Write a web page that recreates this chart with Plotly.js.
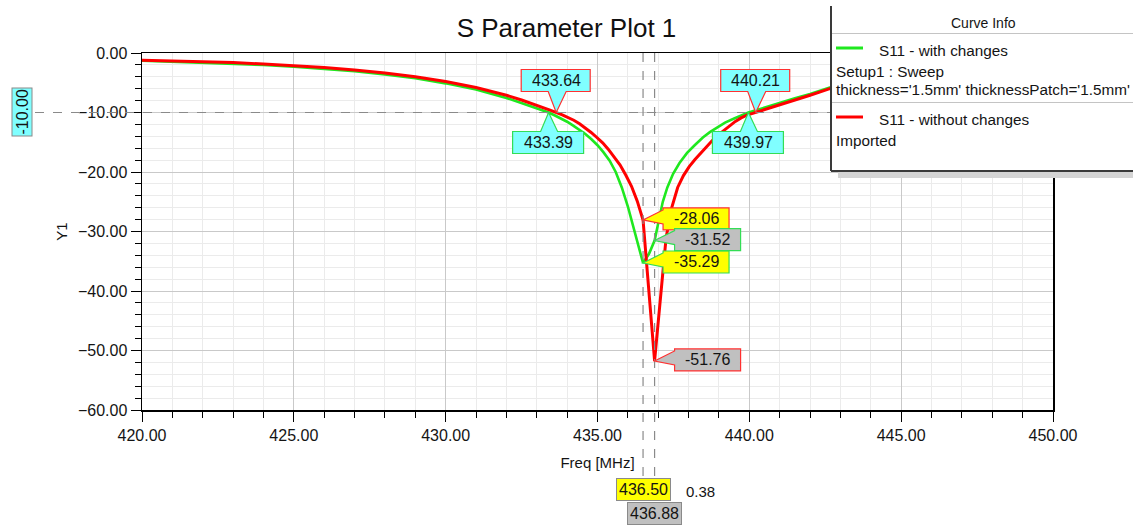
<!DOCTYPE html>
<html>
<head>
<meta charset="utf-8">
<script src="https://cdn.plot.ly/plotly-3.0.1.min.js"></script>
<style>
html,body{margin:0;padding:0;background:#fff;}
#chart{width:1133px;height:529px;}
</style>
</head>
<body>
<div id="chart"></div>
<script>
// ---------------- DATA ----------------
const freqWith = [420, 421, 422, 423, 424, 425, 426, 427, 428, 429, 430, 431, 432, 432.5, 433, 433.39, 433.6, 433.8, 434.0, 434.2, 434.4, 434.6, 434.8, 435.0, 435.2, 435.4, 435.6, 435.8, 436.0, 436.15, 436.3, 436.5, 436.7, 436.88, 437.0, 437.15, 437.3, 437.49, 437.7, 437.95, 438.2, 438.47, 438.7, 438.93, 439.2, 439.5, 439.75, 439.97, 440.3, 440.6, 441, 441.5, 442, 442.65, 443, 444, 445, 446, 447, 448, 449, 450];
const s11With  = [-1.3, -1.45, -1.6, -1.8, -2.0, -2.3, -2.65, -3.05, -3.6, -4.25, -5.1, -6.15, -7.55, -8.4, -9.3, -10.0, -10.5, -11.0, -11.55, -12.2, -12.85, -13.6, -14.5, -15.5, -16.7, -18.1, -20.0, -22.6, -25.8, -28.7, -31.8, -35.29, -33.7, -31.52, -28.6, -25.0, -22.6, -20.3, -18.5, -16.8, -15.5, -14.2, -13.3, -12.5, -11.7, -11.0, -10.4, -10.0, -9.5, -9.0, -8.4, -7.6, -6.9, -5.8, -5.4, -4.6, -4.0, -3.5, -3.1, -2.75, -2.45, -2.2];

const freqWithout = [420, 421, 422, 423, 424, 425, 426, 427, 428, 429, 430, 431, 432, 432.5, 433, 433.46, 433.84, 434.03, 434.22, 434.41, 434.6, 434.79, 434.98, 435.17, 435.36, 435.55, 435.74, 435.93, 436.12, 436.31, 436.5, 436.88, 437.26, 437.45, 437.64, 437.83, 438.02, 438.21, 438.4, 438.6, 438.78, 438.97, 439.16, 439.35, 439.54, 439.73, 439.92, 440.11, 440.3, 440.6, 441, 441.5, 442, 442.65, 443, 444, 445, 446, 447, 448, 449, 450];
const s11Without = [-1.2, -1.3, -1.45, -1.6, -1.85, -2.1, -2.45, -2.85, -3.35, -4.0, -4.8, -5.8, -7.1, -7.9, -8.75, -9.65, -10.4, -10.8, -11.3, -11.9, -12.6, -13.35, -14.2, -15.1, -16.2, -17.4, -18.8, -20.5, -22.4, -24.9, -28.06, -51.76, -31.0, -25.9, -22.6, -20.6, -19.1, -17.9, -16.8, -15.7, -14.7, -13.8, -13.0, -12.2, -11.5, -10.9, -10.45, -10.15, -9.85, -9.3, -8.7, -7.9, -7.1, -6.0, -5.6, -4.7, -4.0, -3.5, -3.1, -2.8, -2.5, -2.3];

const seriesNames = ['S11 - with changes', 'S11 - without changes'];
const seriesNotes = [['Setup1 : Sweep', "thickness='1.5mm' thicknessPatch='1.5mm'"], ['Imported']];

const levelDb = -10;
const crossWith = [433.39, 439.97];
const crossWithout = [433.64, 440.21];
const markerFreqs = [436.50, 436.88];
const markerWith = [-35.29, -31.52];
const markerWithout = [-28.06, -51.76];

const xTickVals = [420, 425, 430, 435, 440, 445, 450];
const yTickVals = [0, -10, -20, -30, -40, -50, -60];

// ---------------- STYLE / GEOMETRY ----------------
const W = 1133, H = 529, L = 142, R = 1053, T = 53, B = 410;
const px2x = px => (px - L) / (R - L);
const py2y = py => (B - py) / (B - T);
const FONT = 'Liberation Sans, Arial, sans-serif';
const GREEN = '#1fe81f', RED = '#ff0000';
const GREEN_B = '#33dd55', RED_B = '#ff3030';
const CYAN = '#80ffff', YELLOW = '#ffff00', GRAY = '#c0c0c0';
const TXT = '#141414';

const traces = [
  {x: freqWith, y: s11With, name: seriesNames[0], mode: 'lines', line: {color: GREEN, width: 2.6}},
  {x: freqWithout, y: s11Without, name: seriesNames[1], mode: 'lines', line: {color: RED, width: 3}}
];

const shapes = [];
const annotations = [];

// dashed -10 level line
shapes.push({type: 'line', xref: 'paper', yref: 'y', x0: px2x(35), x1: 1, y0: levelDb, y1: levelDb,
  line: {color: '#8a8a8a', width: 1.2, dash: 'dash'}, layer: 'above'});
// vertical marker lines
const vEnds = [477, 501];
markerFreqs.forEach((f, i) => {
  shapes.push({type: 'line', xref: 'x', yref: 'paper', x0: f, x1: f, y0: 1, y1: py2y(vEnds[i]),
    line: {color: '#8a8a8a', width: 1.2, dash: 'dash'}, layer: 'above'});
});

function pathFrom(pts) {
  return 'M' + pts.map(p => p[0] + ',' + (-p[1])).join(' L') + ' Z';
}
function calloutDown(l, r, t, b, b1, b2) { // box above anchor, pointer down
  return pathFrom([[l, t], [r, t], [r, b], [b2, b], [0, 0], [b1, b], [l, b]]);
}
function calloutUp(l, r, t, b, b1, b2) { // box below anchor, pointer up
  return pathFrom([[l, t], [b1, t], [0, 0], [b2, t], [r, t], [r, b], [l, b]]);
}
function calloutLeft(l, r, t, b, b1, b2) { // box right of anchor, pointer left
  return pathFrom([[l, t], [r, t], [r, b], [l, b], [l, b2], [0, 0], [l, b1]]);
}
function addCallout(f, v, path, fill, border, text, xs, ys) {
  shapes.push({type: 'path', xref: 'x', yref: 'y', xsizemode: 'pixel', ysizemode: 'pixel',
    xanchor: f, yanchor: v, path: path, fillcolor: fill, line: {color: border, width: 1.2}, layer: 'above'});
  annotations.push({x: f, y: v, xref: 'x', yref: 'y', xshift: xs, yshift: ys, text: text, showarrow: false,
    font: {family: FONT, size: 16, color: TXT}, xanchor: 'center', yanchor: 'middle'});
}
// -10 crossings
crossWithout.forEach(f => addCallout(f, levelDb, calloutDown(-35, 34, -43, -21, -8, 10), CYAN, RED_B, f.toFixed(2), 0, 32));
crossWith.forEach(f => addCallout(f, levelDb, calloutUp(-36, 35, 19, 41, -8, 9), CYAN, GREEN_B, f.toFixed(2), 0, -30));
// marker values
const mFill = [YELLOW, GRAY];
markerFreqs.forEach((f, i) => {
  addCallout(f, markerWithout[i], calloutLeft(20, 86, -12, 10, -10, 4), mFill[i], RED_B, markerWithout[i].toFixed(2), 53, 1);
  addCallout(f, markerWith[i], calloutLeft(20, 86, -12, 10, -10, 4), mFill[i], GREEN_B, markerWith[i].toFixed(2), 53, 1);
});

// bottom marker labels
const bottomY = [489, 513];
markerFreqs.forEach((f, i) => {
  annotations.push({x: f, xref: 'x', y: py2y(bottomY[i]), yref: 'paper', text: f.toFixed(2), showarrow: false,
    bgcolor: mFill[i], bordercolor: '#8a8a8a', borderwidth: 1, borderpad: 2,
    font: {family: FONT, size: 16, color: TXT}, xanchor: 'center', yanchor: 'middle'});
});
annotations.push({x: markerFreqs[1], xref: 'x', xshift: 46, y: py2y(491), yref: 'paper',
  text: (markerFreqs[1] - markerFreqs[0]).toFixed(2), showarrow: false,
  font: {family: FONT, size: 15, color: TXT}, xanchor: 'center', yanchor: 'middle'});
// left level label
annotations.push({x: px2x(22), xref: 'paper', y: levelDb, yref: 'y', text: levelDb.toFixed(2), textangle: -90,
  showarrow: false, bgcolor: CYAN, bordercolor: '#8a8a8a', borderwidth: 1, borderpad: 1,
  font: {family: FONT, size: 16, color: TXT}, xanchor: 'center', yanchor: 'middle'});

// ---------------- Curve Info box ----------------
const bx0 = px2x(831), bx1 = px2x(1145);
shapes.push({type: 'rect', xref: 'paper', yref: 'paper', x0: px2x(838), x1: bx1, y0: py2y(178), y1: py2y(170),
  fillcolor: '#d4d4d4', line: {width: 0}, layer: 'above'});
shapes.push({type: 'rect', xref: 'paper', yref: 'paper', x0: bx0, x1: bx1, y0: py2y(171), y1: py2y(6),
  fillcolor: '#ffffff', line: {width: 0}, layer: 'above'});
shapes.push({type: 'line', xref: 'paper', yref: 'paper', x0: bx0, x1: bx0, y0: py2y(171), y1: py2y(6),
  line: {color: '#3a3a3a', width: 2}, layer: 'above'});
shapes.push({type: 'line', xref: 'paper', yref: 'paper', x0: bx0, x1: bx1, y0: py2y(171), y1: py2y(171),
  line: {color: '#3a3a3a', width: 2}, layer: 'above'});
[33.5, 102.5].forEach(py => shapes.push({type: 'line', xref: 'paper', yref: 'paper', x0: px2x(832), x1: bx1,
  y0: py2y(py), y1: py2y(py), line: {color: '#c4c4c4', width: 1}, layer: 'above'}));
const legLineY = [48, 117];
const legNameY = [50, 119];
const legNoteY = [[71.5, 89], [140]];
const legColors = [GREEN, RED];
seriesNames.forEach((name, i) => {
  shapes.push({type: 'line', xref: 'paper', yref: 'paper', x0: px2x(836), x1: px2x(863),
    y0: py2y(legLineY[i]), y1: py2y(legLineY[i]), line: {color: legColors[i], width: 3}, layer: 'above'});
  annotations.push({x: px2x(877), xref: 'paper', y: py2y(legNameY[i]), yref: 'paper', text: name, showarrow: false,
    xanchor: 'left', yanchor: 'middle', font: {family: FONT, size: 15.3, color: TXT}});
  seriesNotes[i].forEach((note, j) => {
    annotations.push({x: px2x(834), xref: 'paper', y: py2y(legNoteY[i][j]), yref: 'paper', text: note, showarrow: false,
      xanchor: 'left', yanchor: 'middle', font: {family: FONT, size: 15.3, color: TXT}});
  });
});
annotations.push({x: px2x(983), xref: 'paper', y: py2y(23), yref: 'paper', text: 'Curve Info', showarrow: false,
  xanchor: 'center', yanchor: 'middle', font: {family: FONT, size: 14, color: TXT}});

// ---------------- LAYOUT ----------------
const axisCommon = {
  showgrid: true, gridcolor: '#c9c9c9', gridwidth: 1, zeroline: false,
  ticks: 'outside', ticklen: 10, tickwidth: 1, tickcolor: '#000',
  showline: true, linecolor: '#000', linewidth: 1.5, mirror: true,
  tickformat: '.2f', tickfont: {family: FONT, size: 16, color: TXT}
};
const layout = {
  width: W, height: H,
  margin: {l: L, r: W - R, t: T, b: H - B, pad: 0},
  paper_bgcolor: '#ffffff', plot_bgcolor: '#ffffff',
  showlegend: false,
  font: {family: FONT, color: TXT},
  title: {text: 'S Parameter Plot 1', x: 0.5, xref: 'container', y: 1 - 28 / H, yref: 'container',
    xanchor: 'center', yanchor: 'middle', font: {family: FONT, size: 26, color: '#111'}},
  xaxis: Object.assign({}, axisCommon, {
    range: [420, 450], tickmode: 'array', tickvals: xTickVals,
    minor: {dtick: 1, tick0: 420, showgrid: true, gridcolor: '#ebebeb', gridwidth: 1, ticks: 'outside', ticklen: 6, tickcolor: '#000'},
    title: {text: 'Freq [MHz]', font: {family: FONT, size: 15, color: TXT}, standoff: 15}
  }),
  yaxis: Object.assign({}, axisCommon, {
    range: [-60, 0], tickmode: 'array', tickvals: yTickVals,
    minor: {dtick: 2, tick0: 0, showgrid: true, gridcolor: '#ebebeb', gridwidth: 1, ticks: 'outside', ticklen: 6, tickcolor: '#000'},
    title: {text: 'Y1', font: {family: FONT, size: 15, color: TXT}, standoff: 6}
  }),
  shapes: shapes,
  annotations: annotations
};

Plotly.newPlot('chart', traces, layout, {displayModeBar: false, staticPlot: true});
</script>
</body>
</html>
